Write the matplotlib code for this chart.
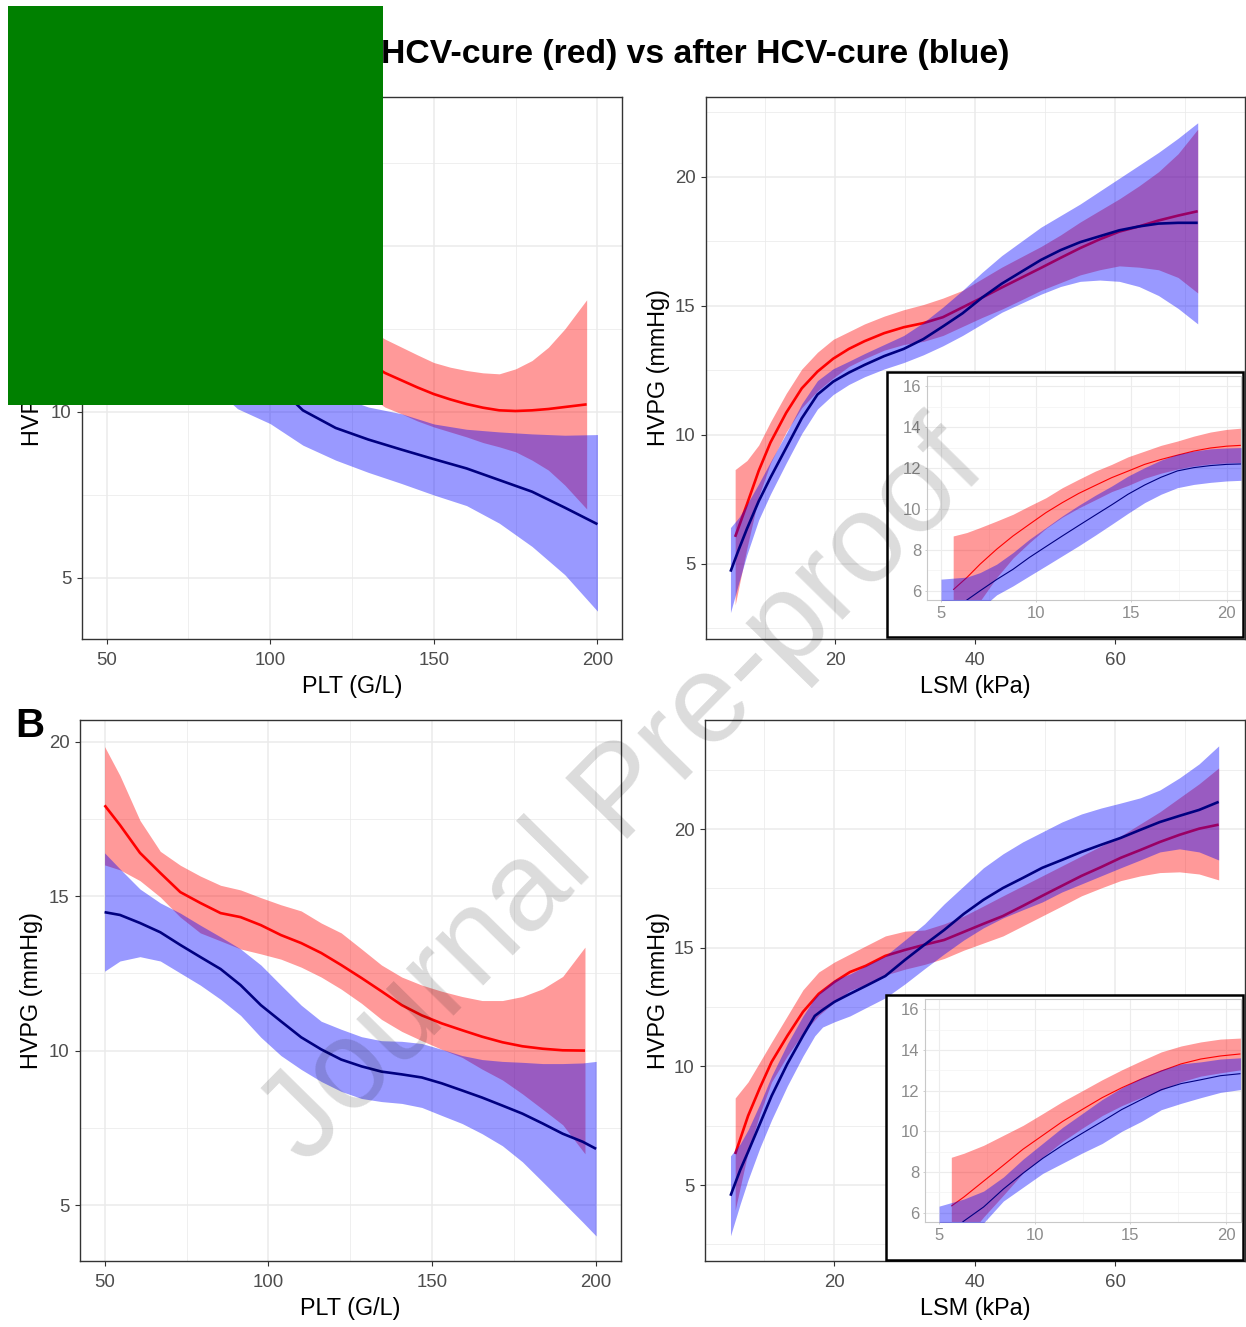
import matplotlib
matplotlib.use("Agg")
import matplotlib.pyplot as plt
from matplotlib.patches import Rectangle
from matplotlib.ticker import MultipleLocator

plt.rcParams['font.family'] = ['Liberation Sans', 'DejaVu Sans']

# ---------------- data ----------------
# Panel A, PLT
A_PLT_RED_X = [50, 60, 70, 80, 90, 100, 110, 120, 130, 135, 140, 145, 150, 155, 160, 165, 170, 175, 180, 185, 190, 196.7]
A_PLT_RED_FIT = [17.5, 16.0, 15.0, 14.3, 13.8, 13.2, 12.6, 12.0, 11.5, 11.18, 10.96, 10.74, 10.54, 10.38, 10.24, 10.13, 10.05, 10.03, 10.05, 10.09, 10.15, 10.23]
A_PLT_RED_HI = [19.5, 17.5, 16.2, 15.4, 14.8, 14.2, 13.6, 13.0, 12.5, 12.2, 11.96, 11.72, 11.49, 11.35, 11.25, 11.18, 11.15, 11.3, 11.55, 11.95, 12.5, 13.38]
A_PLT_RED_LO = [15.5, 14.5, 13.8, 13.2, 12.8, 12.3, 11.7, 11.1, 10.5, 10.15, 9.95, 9.73, 9.55, 9.4, 9.25, 9.08, 8.95, 8.8, 8.55, 8.25, 7.8, 7.08]

A_PLT_BLUE_X = [50, 60, 70, 80, 90, 100, 110, 120, 130, 140, 150, 160, 170, 180, 190, 200]
A_PLT_BLUE_FIT = [14.5, 14.0, 13.4, 12.6, 11.8, 11.0, 10.05, 9.52, 9.17, 8.87, 8.58, 8.3, 7.95, 7.6, 7.12, 6.62]
A_PLT_BLUE_HI = [16.0, 15.3, 14.6, 13.7, 12.8, 12.3, 11.0, 10.5, 10.15, 9.95, 9.64, 9.48, 9.4, 9.34, 9.3, 9.32]
A_PLT_BLUE_LO = [12.6, 12.6, 12.0, 11.0, 10.1, 9.65, 9.0, 8.55, 8.18, 7.85, 7.5, 7.18, 6.65, 5.95, 5.1, 4.0]

# Panel A, LSM
A_LSM_RED_X = [5.73, 7.41, 9.09, 10.77, 13.01, 15.24, 17.48, 19.72, 21.96, 24.2, 26.99, 29.79, 32.59, 35.38, 38.18, 40.98, 43.78, 46.57, 49.37, 52.17, 54.97, 57.76, 60.56, 63.36, 66.15, 68.95, 71.75]
A_LSM_RED_FIT = [6.04, 7.3, 8.6, 9.7, 10.85, 11.8, 12.45, 12.95, 13.33, 13.63, 13.94, 14.17, 14.33, 14.56, 14.94, 15.32, 15.71, 16.09, 16.47, 16.86, 17.24, 17.58, 17.88, 18.08, 18.31, 18.5, 18.67]
A_LSM_RED_HI = [8.65, 9.0, 9.6, 10.5, 11.6, 12.55, 13.2, 13.7, 14.0, 14.3, 14.6, 14.85, 15.05, 15.3, 15.6, 16.05, 16.5, 16.9, 17.3, 17.75, 18.25, 18.7, 19.15, 19.65, 20.2, 20.9, 21.85]
A_LSM_RED_LO = [3.4, 5.6, 7.6, 8.9, 10.1, 11.05, 11.7, 12.2, 12.65, 12.95, 13.28, 13.5, 13.62, 13.85, 14.2, 14.55, 14.87, 15.23, 15.6, 15.9, 16.2, 16.4, 16.55, 16.5, 16.4, 16.1, 15.5]

A_LSM_BLUE_X = [5.06, 6.29, 7.41, 9.09, 10.77, 13.01, 15.24, 17.48, 19.72, 21.96, 24.2, 26.99, 29.79, 32.59, 35.38, 38.18, 40.98, 43.78, 46.57, 49.37, 52.17, 54.97, 57.76, 60.56, 63.36, 66.15, 68.95, 71.75]
A_LSM_BLUE_FIT = [4.69, 5.58, 6.35, 7.42, 8.34, 9.49, 10.64, 11.56, 12.06, 12.41, 12.71, 13.05, 13.33, 13.71, 14.2, 14.71, 15.32, 15.86, 16.32, 16.78, 17.16, 17.47, 17.7, 17.93, 18.08, 18.19, 18.22, 18.22]
A_LSM_BLUE_HI = [6.4, 6.8, 7.3, 8.1, 8.95, 10.05, 11.2, 12.1, 12.56, 12.85, 13.15, 13.5, 13.85, 14.35, 14.95, 15.6, 16.3, 16.95, 17.5, 18.05, 18.5, 18.95, 19.45, 19.95, 20.45, 20.95, 21.5, 22.1]
A_LSM_BLUE_LO = [3.1, 4.3, 5.35, 6.7, 7.7, 8.9, 10.05, 11.0, 11.56, 11.95, 12.25, 12.55, 12.8, 13.1, 13.45, 13.85, 14.3, 14.75, 15.1, 15.45, 15.75, 15.95, 16.0, 15.95, 15.75, 15.4, 14.9, 14.3]

# Panel A, LSM inset (5-20 kPa)
A_INS_RED_X = [5.64, 6.36, 7.05, 7.92, 8.78, 9.64, 10.51, 11.37, 12.23, 13.1, 13.96, 14.82, 15.69, 16.55, 17.41, 18.27, 19.14, 20.0, 20.75]
A_INS_RED_FIT = [6.05, 6.65, 7.3, 8.03, 8.68, 9.25, 9.82, 10.31, 10.76, 11.15, 11.53, 11.85, 12.18, 12.42, 12.63, 12.83, 12.98, 13.07, 13.11]
A_INS_RED_HI = [8.68, 8.85, 9.09, 9.41, 9.74, 10.15, 10.55, 11.04, 11.45, 11.85, 12.18, 12.55, 12.83, 13.11, 13.32, 13.56, 13.76, 13.89, 13.95]
A_INS_RED_LO = [3.4, 4.45, 5.5, 6.65, 7.6, 8.35, 9.05, 9.6, 10.05, 10.45, 10.85, 11.15, 11.5, 11.75, 11.95, 12.1, 12.2, 12.25, 12.27]
A_INS_BLUE_X = [5.0, 6.36, 7.05, 7.92, 8.78, 9.64, 10.51, 11.37, 12.23, 13.1, 13.96, 14.82, 15.69, 16.55, 17.41, 18.27, 19.14, 20.0, 20.75]
A_INS_BLUE_FIT = [4.7, 5.55, 6.0, 6.55, 7.05, 7.63, 8.16, 8.68, 9.19, 9.7, 10.2, 10.72, 11.17, 11.55, 11.86, 12.02, 12.12, 12.18, 12.2]
A_INS_BLUE_HI = [6.57, 6.67, 6.89, 7.3, 7.87, 8.52, 9.09, 9.66, 10.18, 10.67, 11.12, 11.61, 12.02, 12.39, 12.67, 12.83, 12.94, 12.98, 13.0]
A_INS_BLUE_LO = [2.8, 4.4, 5.1, 5.8, 6.24, 6.73, 7.22, 7.71, 8.2, 8.72, 9.25, 9.79, 10.31, 10.72, 11.04, 11.2, 11.3, 11.37, 11.4]

# Panel B, PLT
B_PLT_RED_X = [50, 54.7, 60.8, 67.0, 73.1, 79.2, 85.4, 91.5, 97.7, 103.8, 110.0, 116.1, 122.2, 128.4, 134.5, 140.7, 146.8, 152.9, 159.1, 165.2, 171.4, 177.5, 183.7, 189.8, 196.6]
B_PLT_RED_FIT = [17.94, 17.3, 16.4, 15.75, 15.13, 14.78, 14.45, 14.32, 14.06, 13.74, 13.48, 13.16, 12.77, 12.35, 11.92, 11.47, 11.14, 10.88, 10.66, 10.45, 10.27, 10.14, 10.06, 10.01, 10.0]
B_PLT_RED_HI = [19.84, 18.9, 17.45, 16.45, 16.0, 15.65, 15.35, 15.2, 14.95, 14.72, 14.52, 14.13, 13.81, 13.29, 12.77, 12.38, 12.12, 11.92, 11.75, 11.62, 11.62, 11.75, 12.0, 12.4, 13.35]
B_PLT_RED_LO = [16.01, 15.85, 15.5, 14.97, 14.32, 13.81, 13.55, 13.29, 13.13, 12.96, 12.7, 12.38, 11.99, 11.53, 11.01, 10.62, 10.32, 10.04, 9.78, 9.4, 9.05, 8.6, 8.1, 7.6, 6.66]

B_PLT_BLUE_X = [50, 54.7, 60.8, 67.0, 73.1, 79.2, 85.4, 91.5, 97.7, 103.8, 110.0, 116.1, 122.2, 128.4, 134.5, 140.7, 146.8, 152.9, 159.1, 165.2, 171.4, 177.5, 183.7, 189.8, 195.9, 200]
B_PLT_BLUE_FIT = [14.48, 14.39, 14.13, 13.83, 13.42, 13.03, 12.64, 12.12, 11.47, 10.95, 10.43, 10.04, 9.71, 9.49, 9.32, 9.23, 9.13, 8.94, 8.71, 8.48, 8.22, 7.96, 7.64, 7.31, 7.05, 6.82]
B_PLT_BLUE_HI = [16.4, 15.88, 15.23, 14.78, 14.45, 14.06, 13.68, 13.29, 12.77, 12.12, 11.47, 10.95, 10.69, 10.45, 10.32, 10.3, 10.23, 10.04, 9.84, 9.71, 9.65, 9.62, 9.58, 9.58, 9.6, 9.65]
B_PLT_BLUE_LO = [12.57, 12.9, 13.04, 12.9, 12.51, 12.12, 11.66, 11.14, 10.43, 9.84, 9.39, 9.0, 8.68, 8.45, 8.35, 8.29, 8.16, 7.9, 7.64, 7.31, 6.92, 6.4, 5.75, 5.1, 4.45, 4.0]

# Panel B, LSM
B_LSM_RED_X = [5.87, 7.71, 9.39, 11.06, 13.3, 15.53, 17.77, 20.0, 22.23, 24.47, 27.26, 30.06, 32.85, 35.64, 38.44, 41.23, 44.02, 46.82, 49.61, 52.4, 55.2, 57.99, 60.78, 63.58, 66.37, 69.16, 71.96, 74.75]
B_LSM_RED_FIT = [6.31, 7.92, 9.1, 10.19, 11.29, 12.3, 13.06, 13.56, 13.98, 14.24, 14.66, 14.91, 15.13, 15.33, 15.67, 16.01, 16.34, 16.76, 17.19, 17.61, 18.03, 18.4, 18.79, 19.12, 19.46, 19.76, 20.02, 20.19]
B_LSM_RED_HI = [8.67, 9.35, 10.19, 11.03, 12.13, 13.23, 13.98, 14.4, 14.74, 15.08, 15.5, 15.7, 15.75, 16.01, 16.34, 16.76, 17.19, 17.61, 18.03, 18.45, 18.87, 19.29, 19.71, 20.22, 20.73, 21.32, 21.91, 22.58]
B_LSM_RED_LO = [3.95, 6.4, 8.0, 9.35, 10.45, 11.4, 12.15, 12.7, 13.2, 13.45, 13.85, 14.1, 14.3, 14.55, 14.9, 15.2, 15.5, 15.92, 16.34, 16.76, 17.19, 17.52, 17.83, 18.03, 18.17, 18.2, 18.11, 17.86]

B_LSM_BLUE_X = [5.2, 6.59, 7.71, 9.39, 11.06, 13.3, 15.53, 17.21, 18.32, 20.0, 22.23, 24.47, 27.26, 30.06, 32.85, 35.64, 38.44, 41.23, 44.02, 46.82, 49.61, 52.4, 55.2, 57.99, 60.78, 63.58, 66.37, 69.16, 71.96, 74.75]
B_LSM_BLUE_FIT = [4.55, 5.64, 6.4, 7.58, 8.76, 10.11, 11.29, 12.13, 12.38, 12.72, 13.06, 13.39, 13.81, 14.49, 15.13, 15.75, 16.43, 17.02, 17.52, 17.94, 18.37, 18.7, 19.04, 19.34, 19.63, 19.97, 20.3, 20.56, 20.81, 21.15]
B_LSM_BLUE_HI = [6.23, 6.74, 7.33, 8.42, 9.6, 10.95, 12.13, 12.89, 13.23, 13.65, 13.9, 14.24, 14.66, 15.33, 16.01, 16.85, 17.61, 18.37, 18.96, 19.46, 19.88, 20.3, 20.64, 20.89, 21.1, 21.32, 21.65, 22.16, 22.75, 23.51]
B_LSM_BLUE_LO = [2.86, 4.21, 5.22, 6.57, 7.75, 9.18, 10.44, 11.29, 11.66, 11.88, 12.13, 12.47, 12.89, 13.48, 14.12, 14.74, 15.33, 15.84, 16.26, 16.6, 16.93, 17.35, 17.69, 18.03, 18.37, 18.7, 19.04, 19.17, 19.04, 18.7]

# Panel B, LSM inset
B_INS_RED_X = [5.64, 6.3, 7.33, 8.36, 9.39, 10.42, 11.45, 12.48, 13.52, 14.55, 15.58, 16.61, 17.64, 18.67, 19.7, 20.75]
B_INS_RED_FIT = [6.33, 6.78, 7.56, 8.34, 9.13, 9.81, 10.49, 11.08, 11.66, 12.15, 12.58, 12.97, 13.32, 13.56, 13.71, 13.81]
B_INS_RED_HI = [8.73, 8.93, 9.32, 9.81, 10.3, 10.88, 11.47, 12.0, 12.54, 13.03, 13.48, 13.91, 14.2, 14.4, 14.54, 14.59]
B_INS_RED_LO = [3.93, 4.63, 5.8, 6.87, 7.96, 8.74, 9.51, 10.16, 10.78, 11.27, 11.68, 12.03, 12.44, 12.72, 12.88, 13.03]
B_INS_BLUE_X = [5.0, 6.3, 7.33, 8.36, 9.39, 10.42, 11.45, 12.48, 13.52, 14.55, 15.58, 16.61, 17.64, 18.67, 19.7, 20.75]
B_INS_BLUE_FIT = [4.6, 5.6, 6.29, 7.17, 7.95, 8.68, 9.32, 9.91, 10.49, 11.08, 11.57, 12.05, 12.35, 12.54, 12.74, 12.84]
B_INS_BLUE_HI = [6.33, 6.68, 7.07, 7.76, 8.64, 9.42, 10.2, 10.88, 11.57, 12.15, 12.64, 13.03, 13.32, 13.42, 13.56, 13.62]
B_INS_BLUE_LO = [2.9, 4.5, 5.51, 6.58, 7.26, 7.94, 8.44, 8.94, 9.41, 10.01, 10.5, 11.07, 11.38, 11.66, 11.92, 12.06]

TITLE = "HCV-cure (red) vs after HCV-cure (blue)"
XLAB_PLT = "PLT (G/L)"
XLAB_LSM = "LSM (kPa)"
YLAB = "HVPG (mmHg)"

# ---------------- figure ----------------
W, H = 1246, 1327
fig = plt.figure(figsize=(W / 100, H / 100), dpi=100)
fig.patch.set_facecolor('white')


def px_axes(x0, y0, x1, y1, z=0):
    ax = fig.add_axes([x0 / W, 1 - y1 / H, (x1 - x0) / W, (y1 - y0) / H])
    ax.set_zorder(z)
    return ax


def draw(ax, rx, rf, rh, rl, bx, bf, bh, bl, lw):
    ax.fill_between(rx, rl, rh, color='red', alpha=0.4, lw=0, zorder=1)
    ax.plot(rx, rf, color='red', lw=lw, zorder=2, solid_capstyle='butt')
    ax.fill_between(bx, bl, bh, color='blue', alpha=0.4, lw=0, zorder=3)
    ax.plot(bx, bf, color='#000080', lw=lw, zorder=4, solid_capstyle='butt')


def style_main(ax, xlim, ylim, xmaj, xmin, ymaj, ymin, xlab, ylab, h_px, w_px, xl_off, yl_off):
    ax.set_xlim(xlim)
    ax.set_ylim(ylim)
    ax.xaxis.set_major_locator(MultipleLocator(xmaj))
    ax.xaxis.set_minor_locator(MultipleLocator(xmin))
    ax.yaxis.set_major_locator(MultipleLocator(ymaj))
    ax.yaxis.set_minor_locator(MultipleLocator(ymin))
    ax.grid(which='major', color='#ebebeb', lw=1.1)
    ax.grid(which='minor', color='#ebebeb', lw=0.55)
    ax.set_axisbelow(True)
    for s in ax.spines.values():
        s.set_color('#333333')
        s.set_linewidth(1.0)
        s.set_zorder(6)
    ax.tick_params(which='major', length=3.8, width=0.8, color='#333333',
                   labelsize=13.4, labelcolor='#4d4d4d', pad=3.6)
    ax.tick_params(axis='x', which='major', pad=5.5)
    ax.tick_params(which='minor', length=0)
    ax.set_xlabel(xlab, fontsize=16.8, color='black')
    ax.set_ylabel(ylab, fontsize=16.8, color='black')
    ax.xaxis.label.set_va('center')
    ax.xaxis.set_label_coords(0.5, -xl_off / h_px)
    ax.yaxis.label.set_va('center')
    ax.yaxis.label.set_ha('center')
    ax.yaxis.set_label_coords(-yl_off / w_px, 0.5)


def inset(x0, y0, x1, y1, ix0, iy0, ix1, iy1, data):
    box = Rectangle((x0 / W, 1 - y1 / H), (x1 - x0) / W, (y1 - y0) / H,
                    transform=fig.transFigure, facecolor='white',
                    edgecolor='black', lw=1.8, zorder=7)
    fig.patches.append(box)
    ax = px_axes(ix0, iy0, ix1, iy1, z=8)
    draw(ax, *data, lw=0.8)
    ax.set_xlim(4.25, 20.75)
    ax.set_ylim(5.55, 16.5)
    ax.xaxis.set_major_locator(MultipleLocator(5))
    ax.xaxis.set_minor_locator(MultipleLocator(2.5))
    ax.yaxis.set_major_locator(MultipleLocator(2))
    ax.yaxis.set_minor_locator(MultipleLocator(1))
    ax.grid(which='major', color='#ececec', lw=0.8)
    ax.grid(which='minor', color='#f3f3f3', lw=0.5)
    ax.set_axisbelow(True)
    for s in ax.spines.values():
        s.set_color('#c8c8c8')
        s.set_linewidth(0.8)
    ax.tick_params(which='major', length=1.5, width=0.6, color='#c8c8c8',
                   labelsize=12, labelcolor='#8c8c8c', pad=2.5)
    ax.tick_params(which='minor', length=0)
    return ax


# Panel A, PLT
ax1 = px_axes(82, 97, 622, 638.7)
draw(ax1, A_PLT_RED_X, A_PLT_RED_FIT, A_PLT_RED_HI, A_PLT_RED_LO,
     A_PLT_BLUE_X, A_PLT_BLUE_FIT, A_PLT_BLUE_HI, A_PLT_BLUE_LO, lw=1.9)
style_main(ax1, (42.5, 207.5), (3.17, 19.49), 50, 25, 5, 2.5, XLAB_PLT, YLAB,
           541.7, 540, 47.5, 49)

# Panel A, LSM
ax2 = px_axes(706, 97, 1245, 638.7)
draw(ax2, A_LSM_RED_X, A_LSM_RED_FIT, A_LSM_RED_HI, A_LSM_RED_LO,
     A_LSM_BLUE_X, A_LSM_BLUE_FIT, A_LSM_BLUE_HI, A_LSM_BLUE_LO, lw=1.9)
style_main(ax2, (1.57, 78.5), (2.09, 23.10), 20, 10, 5, 2.5, XLAB_LSM, YLAB,
           541.7, 539, 47.5, 47)

# Panel B, PLT
ax3 = px_axes(80, 720, 620.7, 1261)
draw(ax3, B_PLT_RED_X, B_PLT_RED_FIT, B_PLT_RED_HI, B_PLT_RED_LO,
     B_PLT_BLUE_X, B_PLT_BLUE_FIT, B_PLT_BLUE_HI, B_PLT_BLUE_LO, lw=1.9)
style_main(ax3, (42.5, 207.5), (3.19, 20.70), 50, 25, 5, 2.5, XLAB_PLT, YLAB,
           541, 540.7, 48, 48)

# Panel B, LSM
ax4 = px_axes(705, 720, 1245, 1261)
draw(ax4, B_LSM_RED_X, B_LSM_RED_FIT, B_LSM_RED_HI, B_LSM_RED_LO,
     B_LSM_BLUE_X, B_LSM_BLUE_FIT, B_LSM_BLUE_HI, B_LSM_BLUE_LO, lw=1.9)
style_main(ax4, (1.57, 78.5), (1.80, 24.6), 20, 10, 5, 2.5, XLAB_LSM, YLAB,
           541, 540, 47.5, 46.5)

# Insets
inset(887.3, 371.7, 1243.3, 636.7, 926.7, 376, 1241, 600,
      (A_INS_RED_X, A_INS_RED_FIT, A_INS_RED_HI, A_INS_RED_LO,
       A_INS_BLUE_X, A_INS_BLUE_FIT, A_INS_BLUE_HI, A_INS_BLUE_LO))
inset(886.3, 995.2, 1243.3, 1260, 924.7, 999.2, 1240.5, 1222,
      (B_INS_RED_X, B_INS_RED_FIT, B_INS_RED_HI, B_INS_RED_LO,
       B_INS_BLUE_X, B_INS_BLUE_FIT, B_INS_BLUE_HI, B_INS_BLUE_LO))

# Title, panel letter, cover box, watermark
fig.text(381 / W, 1 - 63.3 / H, TITLE, fontsize=24.3, fontweight='bold',
         ha='left', va='baseline', color='black', zorder=9)
fig.text(15 / W, 1 - 737 / H, 'B', fontsize=29, fontweight='bold',
         ha='left', va='baseline', color='black', zorder=9)
green = Rectangle((8 / W, 1 - 405 / H), (383 - 8) / W, (405 - 6) / H,
                  transform=fig.transFigure, facecolor='#008000',
                  edgecolor='none', zorder=10)
fig.patches.append(green)
fig.text(624 / W, 1 - 795 / H, 'Journal Pre-proof', fontsize=91,
         rotation=45.5, rotation_mode='anchor', ha='center', va='center',
         color='black', alpha=0.14, zorder=20)

fig.savefig('out.png', dpi=100)
